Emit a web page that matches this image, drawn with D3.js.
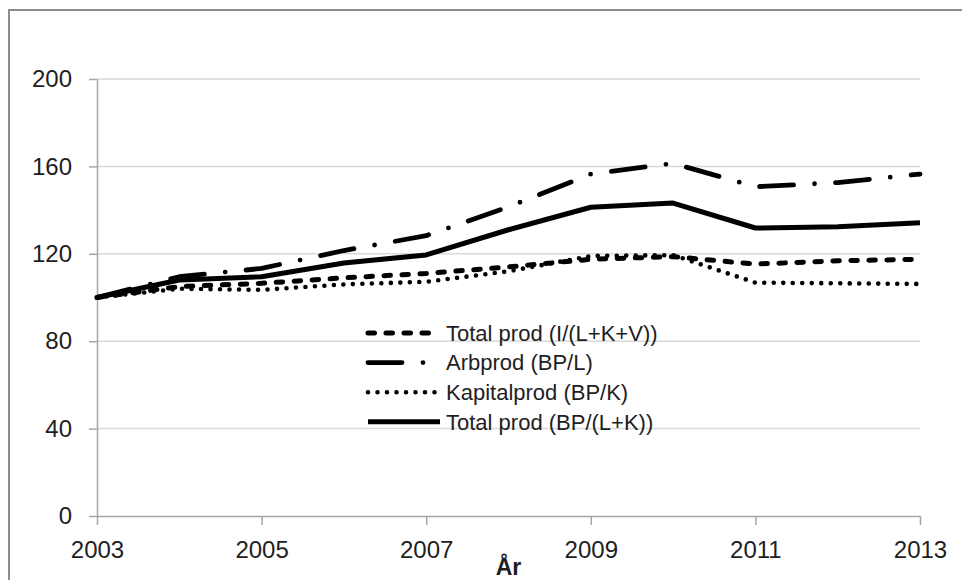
<!DOCTYPE html>
<html>
<head>
<meta charset="utf-8">
<script src="https://cdn.jsdelivr.net/npm/d3@7"></script>
<style>
  html, body { margin: 0; padding: 0; background: #fff; }
  svg { display: block; font-family: "Liberation Sans", Arial, sans-serif; }
</style>
</head>
<body>
<svg id="chart" width="962" height="580"></svg>
<script>
// ---- data ----
const years = [2003, 2004, 2005, 2006, 2007, 2008, 2009, 2010, 2011, 2012, 2013];
const totalProdIKV = [100, 105, 106.5, 109, 111, 114, 117.5, 118.7, 115.3, 116.8, 117.5];
const arbProd = [100, 109.5, 113.3, 121.5, 128.3, 141.5, 156.5, 161.4, 150.7, 152.6, 156.5];
const kapitalProd = [100, 104, 103.5, 106, 107.2, 112, 119, 119.4, 106.8, 106.5, 106.2];
const totalProdBPLK = [100, 108, 109.5, 115.8, 119.5, 131, 141.3, 143.2, 131.8, 132.4, 134.2];
const seriesNames = ["Total prod (I/(L+K+V))", "Arbprod (BP/L)", "Kapitalprod (BP/K)", "Total prod (BP/(L+K))"];
const xTickYears = [2003, 2005, 2007, 2009, 2011, 2013];
const yTickValues = [0, 40, 80, 120, 160, 200];
const xTitle = "År";

// ---- styles ----
const seriesStyles = [
  { dash: "6.5 11.5", width: 5 },
  { dash: "34 21 0 21", width: 4.8 },
  { dash: "0 9.5", width: 4.6 },
  { dash: null, width: 5 }
];
const seriesData = [totalProdIKV, arbProd, kapitalProd, totalProdBPLK];

const svg = d3.select("#chart");
const x = d3.scaleLinear().domain([2003, 2013]).range([97, 920]);
const y = d3.scaleLinear().domain([0, 200]).range([516, 79]);

// frame
svg.append("rect").attr("x", 9).attr("y", 10).attr("width", 1000).attr("height", 1000)
  .attr("fill", "none").attr("stroke", "#8c8c8c").attr("stroke-width", 2);

// grid
svg.append("g").selectAll("line").data(yTickValues.filter(d => d > 0)).join("line")
  .attr("x1", x(2003)).attr("x2", x(2013))
  .attr("y1", d => y(d)).attr("y2", d => y(d))
  .attr("stroke", "#d9d9d9").attr("stroke-width", 1.5);

// y axis
const yAxis = svg.append("g").attr("transform", `translate(${x(2003)},0)`)
  .call(d3.axisLeft(y).tickValues(yTickValues).tickSize(8).tickSizeOuter(0).tickPadding(17));
yAxis.select(".domain").attr("stroke", "#a6a6a6").attr("stroke-width", 1.5);
yAxis.selectAll(".tick line").attr("stroke", "#a6a6a6").attr("stroke-width", 1.5);
yAxis.selectAll("text").attr("font-size", 24).attr("fill", "#1e1e1e")
  .attr("font-family", "Liberation Sans, Arial, sans-serif");

// x axis
const xAxis = svg.append("g").attr("transform", `translate(0,${y(0)})`)
  .call(d3.axisBottom(x).tickValues(xTickYears).tickFormat(d3.format("d"))
    .tickSize(9).tickSizeOuter(0).tickPadding(16));
xAxis.select(".domain").attr("stroke", "#a6a6a6").attr("stroke-width", 1.5);
xAxis.selectAll(".tick line").attr("stroke", "#a6a6a6").attr("stroke-width", 1.5);
xAxis.selectAll("text").attr("font-size", 24).attr("fill", "#1e1e1e")
  .attr("font-family", "Liberation Sans, Arial, sans-serif");

// x title
svg.append("text").attr("x", (x(2003) + x(2013)) / 2).attr("y", 575)
  .attr("text-anchor", "middle").attr("font-size", 23).attr("font-weight", "bold")
  .attr("fill", "#1e1e1e").text(xTitle);

// lines
const line = d3.line().x((d, i) => x(years[i])).y(d => y(d));
seriesData.forEach((vals, k) => {
  const st = seriesStyles[k];
  svg.append("path").datum(vals).attr("d", line)
    .attr("fill", "none").attr("stroke", "#000")
    .attr("stroke-width", st.width)
    .attr("stroke-linecap", st.dash ? "round" : "butt")
    .attr("stroke-linejoin", "round")
    .attr("stroke-dasharray", st.dash);
});

// legend
const legendRowsY = [333, 362.6, 392.2, 421.8];
const legend = svg.append("g");
seriesNames.forEach((name, k) => {
  const st = seriesStyles[k];
  const ly = legendRowsY[k];
  legend.append("line").attr("x1", 368).attr("x2", 440).attr("y1", ly).attr("y2", ly)
    .attr("stroke", "#000").attr("stroke-width", st.width)
    .attr("stroke-linecap", st.dash ? "round" : "butt")
    .attr("stroke-dasharray", st.dash);
  legend.append("text").attr("x", 446).attr("y", ly).attr("dy", "0.35em")
    .attr("font-size", 22).attr("fill", "#1e1e1e").text(name);
});
</script>
</body>
</html>
